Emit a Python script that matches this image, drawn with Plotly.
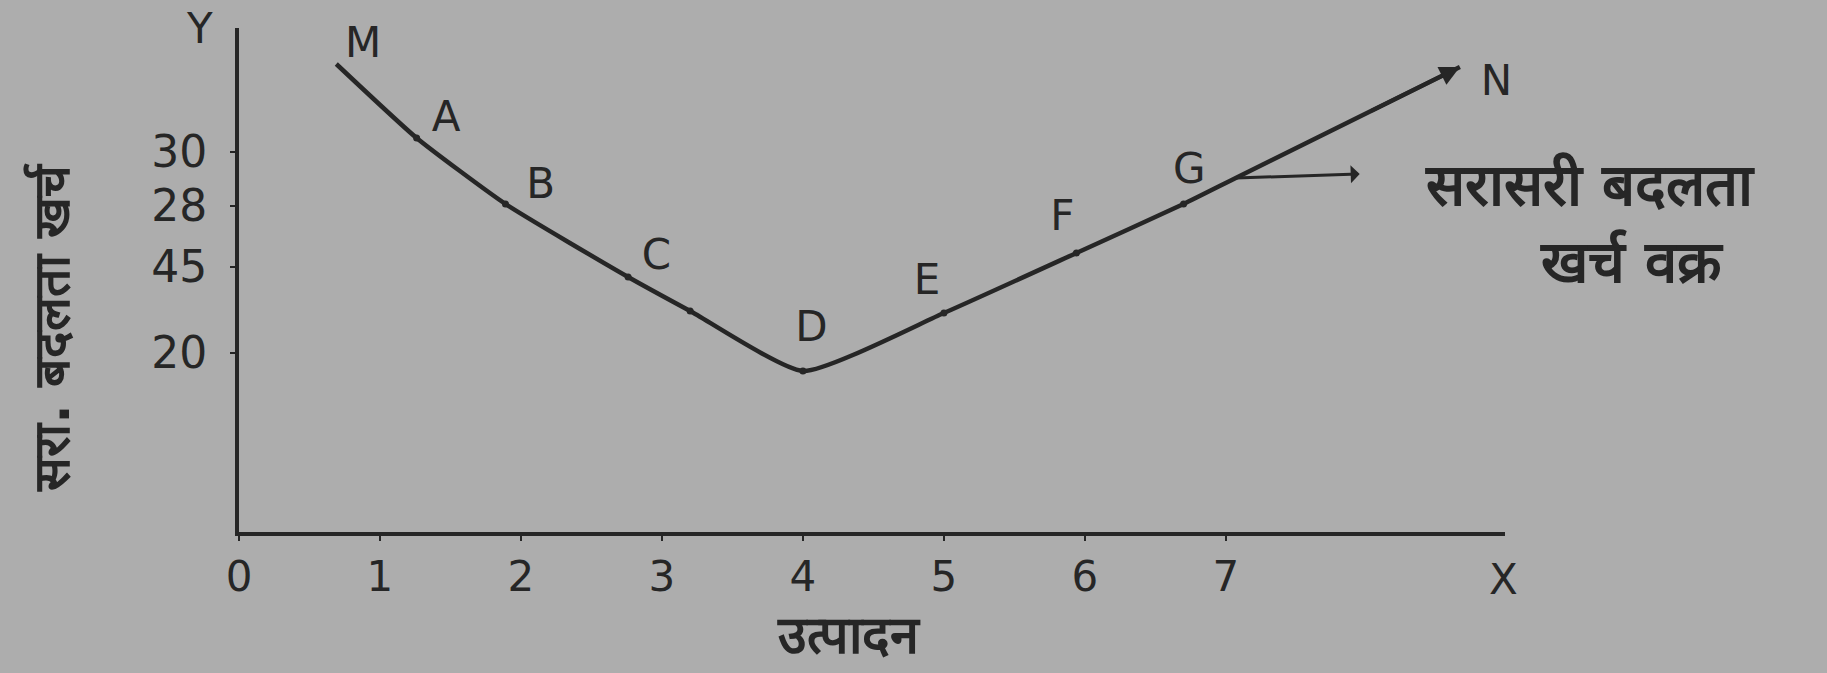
import plotly.graph_objects as go

# curve M .. N (output on x, hidden cost scale on y)
curve_x = [0.69, 1.26, 1.89, 2.76, 3.2, 4.0, 5.0, 5.94, 6.7, 7.07, 8.66]
curve_y = [9.36, 7.88, 6.56, 5.10, 4.42, 3.22, 4.38, 5.58, 6.56, 7.08, 9.30]

# marked points on the curve
dot_x = [1.26, 1.89, 2.76, 3.2, 4.0, 5.0, 5.94, 6.7]
dot_y = [7.88, 6.56, 5.10, 4.42, 3.22, 4.38, 5.58, 6.56]

# letter labels
lab_text = ["M", "A", "B", "C", "D", "E", "F", "G", "N"]
lab_x = [0.88, 1.47, 2.14, 2.96, 4.06, 4.88, 5.84, 6.74, 8.92]
lab_y = [9.72, 8.24, 6.9, 5.48, 4.04, 4.98, 6.26, 7.2, 8.96]

x_ticks = [0, 1, 2, 3, 4, 5, 6, 7]
y_tickvals = [7.6, 6.52, 5.3, 3.58]
y_ticktext = ["30", "28", "45", "20"]

INK = "#262626"
BG = "#adadad"
FONT = "DejaVu Sans"
DEV = dict(family=FONT, size=58, color=INK, weight="bold")


def note(x, y, text, font, angle=0):
    fig.add_annotation(x=x, y=y, xref="paper", yref="paper", showarrow=False, text=text,
                       xanchor="center", yanchor="middle", textangle=angle, font=font)


fig = go.Figure()
fig.add_trace(go.Scatter(x=curve_x, y=curve_y, mode="lines",
                         line=dict(color=INK, width=4.5, shape="spline", smoothing=0.5),
                         hoverinfo="skip", cliponaxis=False))
fig.add_trace(go.Scatter(x=dot_x, y=dot_y, mode="markers",
                         marker=dict(color=INK, size=7), hoverinfo="skip"))
fig.add_trace(go.Scatter(x=lab_x, y=lab_y, mode="text", text=lab_text, cliponaxis=False,
                         textfont=dict(family=FONT, size=42, color=INK), hoverinfo="skip"))

# arrow head at N
fig.add_annotation(x=curve_x[-1], y=curve_y[-1], ax=curve_x[-2], ay=curve_y[-2],
                   xref="x", yref="y", axref="x", ayref="y", text="",
                   showarrow=True, arrowhead=2, arrowsize=1, arrowwidth=4, arrowcolor=INK,
                   standoff=0, startstandoff=150)
# pointer to the curve name
fig.add_annotation(x=7.07, y=7.08, ax=7.96, ay=7.16, xref="x", yref="y", axref="x", ayref="y",
                   text="", showarrow=True, arrowhead=2, arrowside="start", arrowsize=1,
                   arrowwidth=3, arrowcolor=INK)
note(1.067, 0.688, "सरासरी बदलता", DEV)
note(1.100, 0.536, "खर्च वक्र", DEV)

# axis titles
note(-0.148, 0.407, "सरा. बदलता खर्च", dict(DEV, size=50), angle=-90)
note(0.482, -0.204, "उत्पादन", dict(DEV, size=52))

# axis letters
note(-0.031, 1.0, "Y", dict(family=FONT, size=42, color=INK))
note(0.999, -0.095, "X", dict(family=FONT, size=42, color=INK))

fig.update_xaxes(range=[0, 8.98], tickvals=x_ticks, ticktext=[str(v) for v in x_ticks],
                 showgrid=False, zeroline=False, showline=True, linecolor=INK, linewidth=4,
                 ticks="outside", ticklen=5, tickwidth=2, tickcolor=INK,
                 tickfont=dict(family=FONT, size=42, color=INK))
fig.update_yaxes(range=[0, 10.08], tickvals=y_tickvals, ticktext=y_ticktext,
                 showgrid=False, zeroline=False, showline=True, linecolor=INK, linewidth=4,
                 ticks="outside", ticklen=5, tickwidth=2, tickcolor=INK, ticklabelstandoff=14,
                 tickfont=dict(family=FONT, size=44, color=INK))

fig.update_layout(width=1827, height=673, showlegend=False,
                  paper_bgcolor=BG, plot_bgcolor=BG,
                  margin=dict(l=239, r=322, t=28, b=141))

fig.write_html("out.html", config={"displayModeBar": False},
               post_script="document.body.style.margin='0';document.body.style.background='#adadad';")
